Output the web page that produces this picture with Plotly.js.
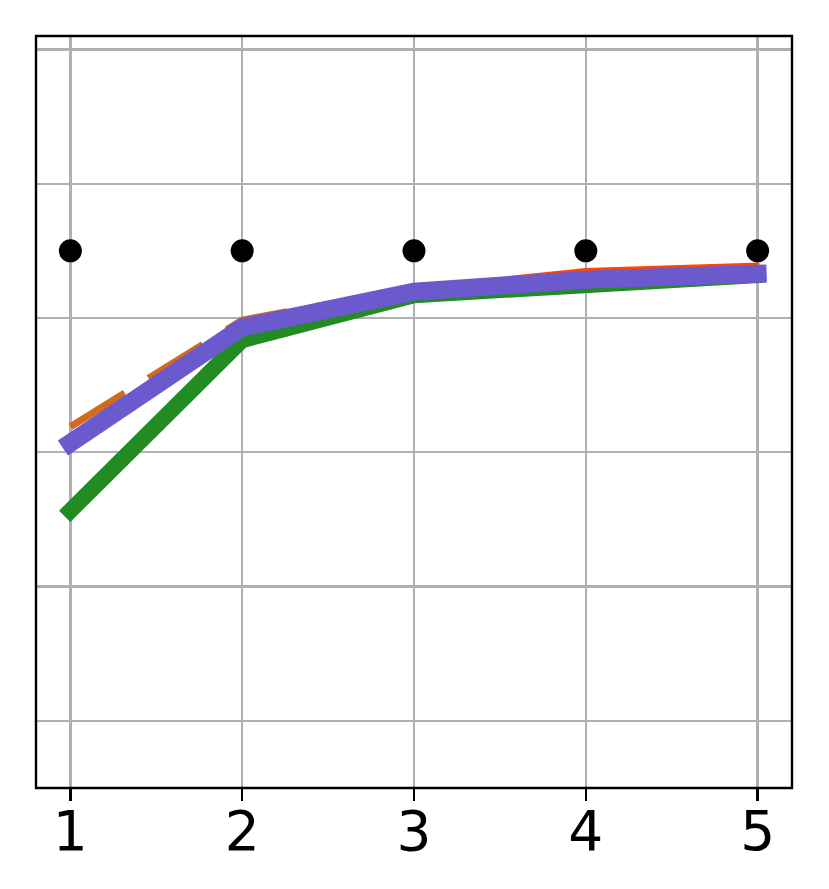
<!DOCTYPE html>
<html>
<head>
<meta charset="utf-8">
<script src="https://cdn.plot.ly/plotly-3.0.1.min.js"></script>
<style>html,body{margin:0;padding:0;background:#fff;}#chart{width:829px;height:889px;}</style>
</head>
<body>
<div id="chart"></div>
<script>
const xVals = [1, 2, 3, 4, 5];
const orangeDashed = [0.438, 0.597, 0.644, 0.663, 0.672];
const redSolid = [0.426, 0.597, 0.645, 0.672, 0.680];
const greenThick = [0.313, 0.567, 0.634, 0.650, 0.664];
const blueThick = [0.414, 0.586, 0.639, 0.657, 0.666];
const blackDots = [0.7, 0.7, 0.7, 0.7, 0.7];
const xTicks = [1, 2, 3, 4, 5];
const yGrid = [0, 0.2, 0.4, 0.6, 0.8, 1.0];

const traces = [
  {x: xVals, y: greenThick, mode: 'lines', line: {color: '#228B22', width: 16}},
  {x: xVals, y: redSolid, mode: 'lines', line: {color: '#FF4500', width: 3.5}},
  {x: xVals, y: orangeDashed, mode: 'lines', line: {color: '#D2691E', width: 7, dash: '64px,28px'}},
  {x: xVals, y: blueThick, mode: 'lines', line: {color: '#6A5ACD', width: 18}},
  {x: xVals, y: blackDots, mode: 'markers', marker: {color: '#000000', size: 23}}
];

const layout = {
  width: 829, height: 889,
  margin: {l: 36, r: 37, t: 36, b: 101},
  paper_bgcolor: '#fff', plot_bgcolor: '#fff',
  showlegend: false,
  xaxis: {
    range: [0.8, 5.2], tickvals: xTicks, ticktext: xTicks.map(String),
    showgrid: true, gridcolor: '#b0b0b0', gridwidth: 2.4, zeroline: false,
    ticks: 'outside', ticklen: 12, tickwidth: 2.4, tickcolor: '#000',
    ticklabelstandoff: -17,
    tickfont: {family: 'DejaVu Sans', size: 55, color: '#000'}, showline: false
  },
  yaxis: {
    range: [-0.1, 1.02], tickvals: yGrid, showticklabels: false,
    showgrid: true, gridcolor: '#b0b0b0', gridwidth: 2.4, zeroline: false,
    ticks: '', showline: false
  },
  shapes: [{type: 'rect', xref: 'paper', yref: 'paper', x0: 0, x1: 1, y0: 0, y1: 1,
    line: {color: '#000', width: 2.4}, fillcolor: 'rgba(0,0,0,0)', layer: 'above'}]
};
Plotly.newPlot('chart', traces, layout, {displayModeBar: false, staticPlot: true}).then(function (gd) {
  const tr = gd.querySelectorAll('.scatterlayer .trace');
  [0, 1, 3].forEach(function (i) {
    if (tr[i]) tr[i].querySelectorAll('path.js-line').forEach(function (p) {
      p.style.strokeLinecap = 'square';
    });
  });
});
</script>
</body>
</html>
